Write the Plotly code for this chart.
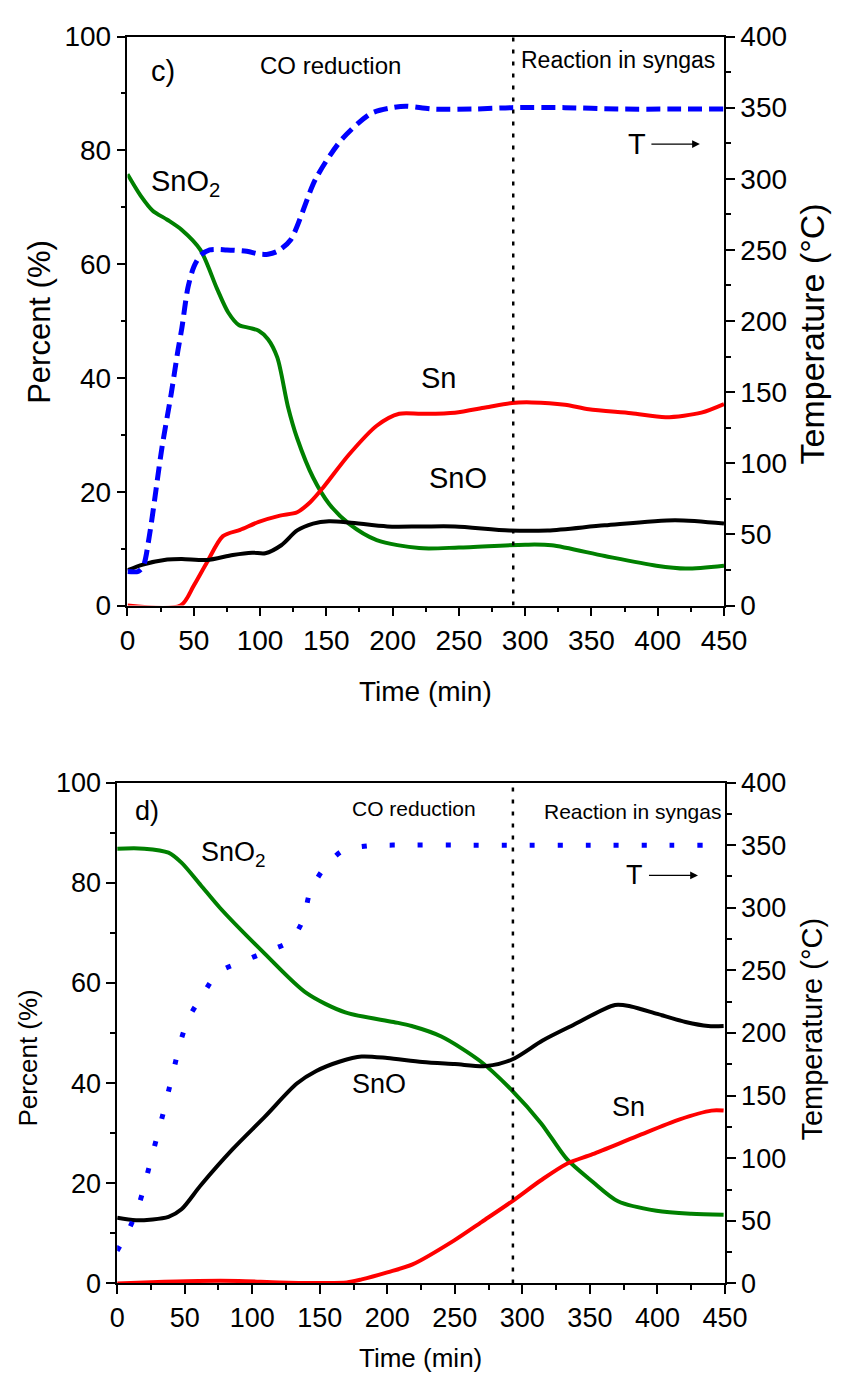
import plotly.graph_objects as go

W, H = 853, 1393

# ---------------- data: panel c ----------------
c_T_t = [0, 8, 12, 16.5, 26, 33, 38, 41, 45.5, 50, 55, 62, 75, 90, 100, 106, 113, 123, 142, 162, 184, 200, 210, 230, 260, 290, 330, 370, 410, 450]
c_T = [24, 24, 28, 49, 111, 149, 179, 195, 223, 238, 246, 250, 250, 249, 247, 247, 249, 257, 300, 328, 346, 350, 351, 349, 349, 350, 350, 349, 349, 349]

c_SnO2_t = [0, 10, 19, 30, 41, 55, 67.5, 76, 84, 92, 99, 106, 113, 121, 128, 140, 152, 167, 188, 220, 250, 300, 320, 360, 399, 421, 450]
c_SnO2 = [75.8, 72, 69.4, 67.8, 66, 62.5, 55.7, 51.5, 49.3, 48.8, 48.3, 46.8, 43.6, 35, 29.4, 22.5, 17.9, 14.4, 11.5, 10.1, 10.2, 10.7, 10.6, 8.7, 7.0, 6.5, 7.0]

c_Sn_t = [0, 40, 50, 60, 72, 85, 99, 115, 128, 138, 147.5, 167, 188, 205, 222, 247, 270, 290, 305, 330, 348, 380, 406, 433, 450]
c_Sn = [0, 0, 3.5, 7.6, 12.2, 13.3, 14.7, 15.8, 16.4, 18.2, 20.7, 26.5, 31.6, 33.7, 33.7, 33.9, 34.8, 35.6, 35.7, 35.3, 34.5, 33.8, 33.1, 33.9, 35.4]

c_SnO_t = [0, 11.6, 30, 41, 60, 79.5, 94, 104, 116, 128, 140, 152, 167, 196, 222, 247, 288, 317, 360, 413, 450]
c_SnO = [6.2, 7.2, 8.1, 8.2, 8.0, 8.9, 9.3, 9.2, 10.6, 13.2, 14.4, 14.8, 14.6, 13.9, 13.9, 13.9, 13.2, 13.2, 14.1, 15.0, 14.4]

c_divider = 291

# ---------------- data: panel d ----------------
d_T_t = [0, 9.5, 16.7, 22, 27, 32.2, 37, 41.7, 46.4, 52.5, 63, 75, 92.7, 110.5, 128, 137.8, 142.5, 152, 166.6, 185.6, 220, 260, 300, 350, 400, 450]
d_T = [26, 45, 65, 86, 107, 128, 149, 170, 191, 211, 230, 248.5, 257, 265, 273.5, 290.7, 311.6, 329.8, 345.3, 349.4, 350, 350, 350, 350, 350, 350]

d_SnO2_t = [0, 20, 38, 47.6, 61.9, 76, 109.4, 140, 168.9, 204.6, 218, 240, 268.7, 292.4, 313.8, 333, 352, 370.8, 399.3, 425, 449]
d_SnO2 = [86.8, 86.8, 86.0, 84.0, 79.5, 75.0, 65.8, 58.0, 54.1, 52.2, 51.4, 49.3, 44.4, 38.5, 32.0, 24.8, 20.3, 16.4, 14.5, 13.9, 13.7]

d_SnO_t = [0, 14, 38, 47.6, 61.9, 85.5, 109.4, 133, 147.4, 165, 181, 200, 226, 250, 273.5, 292.4, 315, 337.7, 368.6, 380.5, 400, 420.8, 437.6, 449]
d_SnO = [13.1, 12.6, 13.3, 14.8, 19.6, 26.8, 33.3, 39.9, 42.4, 44.3, 45.3, 45.0, 44.2, 43.8, 43.4, 44.7, 48.5, 51.6, 55.6, 55.3, 53.8, 52.2, 51.4, 51.4]

d_Sn_t = [0, 30, 60, 90, 120, 150, 170, 181, 200, 218.7, 249.6, 270, 292.4, 313.8, 333, 352, 385, 416, 440, 449]
d_Sn = [0, 0.3, 0.5, 0.5, 0.2, 0.1, 0.2, 0.8, 2.2, 3.8, 8.6, 12.3, 16.4, 20.6, 23.9, 25.8, 29.4, 32.7, 34.5, 34.5]

d_divider = 293

GREEN, RED, BLUE, BLACK = "#008000", "#ff0000", "#0000ff", "#000000"
FONT = "Liberation Sans, Arial, sans-serif"


def px(x):
    return x / W


def py(y):
    return 1 - y / H


fig = go.Figure()


def line(t, v, color, xa, ya, width=4, dash=None):
    fig.add_trace(go.Scatter(
        x=t, y=v, mode="lines", xaxis=xa, yaxis=ya, showlegend=False,
        line=dict(color=color, width=width, shape="spline", smoothing=0.8,
                  dash=dash)))


# panel c
line(c_SnO2_t, c_SnO2, GREEN, "x", "y")
line(c_Sn_t, c_Sn, RED, "x", "y")
line(c_SnO_t, c_SnO, BLACK, "x", "y")
line(c_T_t, c_T, BLUE, "x", "y2", width=5, dash="14px,7px")
# panel d
line(d_SnO2_t, d_SnO2, GREEN, "x2", "y3")
line(d_Sn_t, d_Sn, RED, "x2", "y3")
line(d_SnO_t, d_SnO, BLACK, "x2", "y3")
line(d_T_t, d_T, BLUE, "x2", "y4", width=5, dash="5px,23px")

# dividers
fig.add_trace(go.Scatter(x=[c_divider, c_divider], y=[0, 100], mode="lines",
                         xaxis="x", yaxis="y", showlegend=False,
                         line=dict(color=BLACK, width=2.5, dash="4px,8px")))
fig.add_trace(go.Scatter(x=[d_divider, d_divider], y=[0, 100], mode="lines",
                         xaxis="x2", yaxis="y3", showlegend=False,
                         line=dict(color=BLACK, width=2.5, dash="4px,8px")))


def axis_common(size, dtick, minor_dtick, rng):
    return dict(range=rng, dtick=dtick, tick0=0, ticks="outside", ticklen=9,
                tickwidth=1.5, tickcolor=BLACK, showline=True, linewidth=1.5,
                linecolor=BLACK, showgrid=False, zeroline=False,
                tickfont=dict(family=FONT, size=size, color=BLACK),
                minor=dict(dtick=minor_dtick, tick0=0, ticks="outside",
                           ticklen=5, tickwidth=1.5, tickcolor=BLACK,
                           showgrid=False))


fig.update_layout(
    width=W, height=H, margin=dict(l=0, r=0, t=0, b=0),
    paper_bgcolor="white", plot_bgcolor="white",
    font=dict(family=FONT, color=BLACK),
    xaxis=dict(domain=[px(124), px(743)], anchor="y", mirror=True,
               **axis_common(28, 50, 25, [0, 450])),
    yaxis=dict(domain=[py(604), py(22)], anchor="x",
               **axis_common(28, 20, 10, [0, 100])),
    yaxis2=dict(overlaying="y", side="right", anchor="x",
                **axis_common(28, 50, 25, [0, 400])),
    xaxis2=dict(domain=[px(113.3), px(744)], anchor="y3", mirror=True,
                **axis_common(27, 50, 25, [0, 450])),
    yaxis3=dict(domain=[py(1297.3), py(785)], anchor="x2",
                **axis_common(27, 20, 10, [0, 100])),
    yaxis4=dict(overlaying="y3", side="right", anchor="x2",
                **axis_common(27, 50, 25, [0, 400])),
)

ann = []


def text(x, y, s, size, angle=0):
    ann.append(dict(x=px(x), y=py(y), xref="paper", yref="paper", text=s,
                    showarrow=False, textangle=angle, xanchor="center",
                    yanchor="middle",
                    font=dict(family=FONT, size=size, color=BLACK)))


def t_arrow(xt, x1, y, size):
    # "T" label with an arrow pointing right toward the temperature axis
    ann.append(dict(x=px(x1), y=py(y), xref="paper", yref="paper", text="T",
                    showarrow=True, ax=xt - x1, ay=0, arrowhead=2,
                    arrowsize=1.2, arrowwidth=1.3, arrowcolor=BLACK,
                    startstandoff=4,
                    font=dict(family=FONT, size=size, color=BLACK)))


# panel c texts
text(161, 57, "c)", 29)
text(335, 52, "CO reduction", 24)
text(633, 46, "Reaction in syngas", 23)
t_arrow(655, 718, 132, 29)
text(184, 172, "SnO<sub>2</sub>", 29)
text(447, 371, "Sn", 29)
text(467, 474, "SnO", 29)
text(32, 314, "Percent (%)", 31, -90)
text(433, 692, "Time (min)", 28)
text(834, 326, "Temperature (°C)", 34, -90)

# panel d texts
text(144, 814, "d)", 27)
text(421, 812, "CO reduction", 21)
text(648, 815, "Reaction in syngas", 21)
t_arrow(653, 716, 880, 27)
text(234, 858, "SnO<sub>2</sub>", 27)
text(385, 1093, "SnO", 27)
text(644, 1117, "Sn", 27)
text(21, 1067, "Percent (%)", 26, -90)
text(428, 1374, "Time (min)", 26)
text(834, 1037, "Temperature (°C)", 29, -90)

fig.update_layout(annotations=ann)

fig.write_html("out.html")
